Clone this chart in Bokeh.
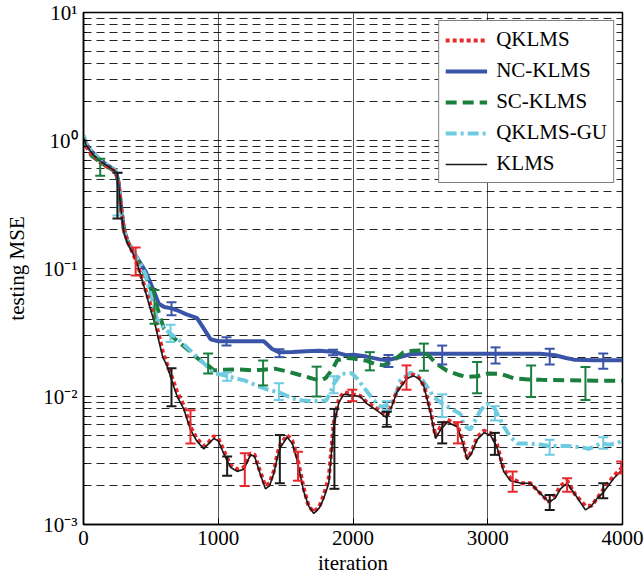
from bokeh.plotting import figure
from bokeh.models import (Range1d, FixedTicker, ColumnDataSource, Whisker, TeeHead,
                          Legend, LegendItem)
from bokeh.embed import file_html
from bokeh.resources import INLINE

# ---------------- data ----------------
it_k = [0, 20, 60, 120, 180, 240, 260, 280, 300, 330, 370, 410, 457, 497, 530, 560, 590, 620, 653, 695,
        744, 794, 840, 893, 930, 967, 1000, 1040, 1091, 1140, 1190, 1239, 1270, 1310, 1350, 1380, 1412,
        1440, 1462, 1511, 1550, 1585, 1635, 1670, 1709, 1750, 1783, 1820, 1857, 1895, 1932, 1994, 2054,
        2103, 2177, 2251, 2290, 2325, 2400, 2449, 2490, 2526, 2575, 2612, 2650, 2700, 2773, 2810, 2847,
        2880, 2921, 2971, 3020, 3069, 3118, 3168, 3250, 3317, 3379, 3453, 3500, 3540, 3589, 3651, 3725,
        3770, 3812, 3861, 3936, 4000]
klms = [1.05, 0.92, 0.80, 0.69, 0.63, 0.57, 0.45, 0.28, 0.19, 0.155, 0.13, 0.10, 0.068, 0.048, 0.037,
        0.027, 0.020, 0.0175, 0.0135, 0.0100, 0.0080, 0.0055, 0.0045, 0.0039, 0.0043, 0.0047, 0.0045,
        0.0036, 0.0028, 0.0026, 0.0027, 0.0035, 0.0034, 0.0025, 0.0019, 0.0020, 0.0025, 0.0034, 0.0040,
        0.0048, 0.0043, 0.0032, 0.0018, 0.0014, 0.00122, 0.00135, 0.0016, 0.0021, 0.0058, 0.0090, 0.0104,
        0.0102, 0.0100, 0.0088, 0.0078, 0.0068, 0.0085, 0.0108, 0.0138, 0.0145, 0.0138, 0.0120, 0.0075,
        0.0047, 0.0055, 0.0063, 0.0058, 0.0045, 0.0032, 0.0036, 0.0046, 0.0052, 0.0050, 0.0040, 0.0026,
        0.0022, 0.0021, 0.0021, 0.0018, 0.0015, 0.0016, 0.0019, 0.0021, 0.0017, 0.0013, 0.0014, 0.0016,
        0.0018, 0.0023, 0.0027]
qklms = [1.02, 0.90, 0.78, 0.68, 0.62, 0.57, 0.46, 0.29, 0.20, 0.16, 0.13, 0.10, 0.070, 0.052, 0.040,
         0.030, 0.022, 0.018, 0.0145, 0.0108, 0.0085, 0.0058, 0.0047, 0.0041, 0.0044, 0.0049, 0.0047,
         0.0038, 0.0029, 0.0027, 0.0028, 0.0036, 0.0035, 0.0026, 0.0020, 0.0021, 0.0026, 0.0036, 0.0042,
         0.0050, 0.0045, 0.0034, 0.0019, 0.0014, 0.00125, 0.00138, 0.0017, 0.0023, 0.0062, 0.0095, 0.0108,
         0.0104, 0.0101, 0.0090, 0.0080, 0.0070, 0.0087, 0.0110, 0.0142, 0.0148, 0.0140, 0.0122, 0.0078,
         0.0049, 0.0058, 0.0066, 0.0060, 0.0047, 0.0033, 0.0037, 0.0048, 0.0054, 0.0052, 0.0042, 0.0027,
         0.0023, 0.0021, 0.0021, 0.0018, 0.0015, 0.0017, 0.0020, 0.0022, 0.0017, 0.0014, 0.0014, 0.0016,
         0.0019, 0.0024, 0.0028]

it_nc = [0, 20, 60, 120, 180, 240, 260, 280, 300, 330, 370, 423, 460, 519, 559, 600, 646, 700, 760, 843,
         900, 943, 1000, 1100, 1200, 1338, 1400, 1450, 1550, 1650, 1750, 1850, 1950, 2006, 2100, 2200,
         2253, 2320, 2427, 2500, 2600, 2800, 3000, 3200, 3391, 3500, 3580, 3640, 3800, 4000]
nc_klms = [1.08, 0.94, 0.82, 0.71, 0.64, 0.58, 0.47, 0.30, 0.20, 0.16, 0.135, 0.11, 0.095, 0.068, 0.053,
           0.050, 0.049, 0.047, 0.044, 0.041, 0.033, 0.028, 0.027, 0.027, 0.027, 0.027, 0.0235, 0.0222,
           0.0223, 0.0226, 0.0228, 0.0224, 0.021, 0.0212, 0.0205, 0.0195, 0.0192, 0.020, 0.0214, 0.0216,
           0.0216, 0.0216, 0.0216, 0.0216, 0.0216, 0.021, 0.020, 0.0194, 0.0192, 0.0192]

it_sc = [0, 20, 60, 120, 180, 240, 260, 280, 300, 330, 370, 423, 460, 510, 560, 596, 650, 700, 760, 819,
         870, 925, 967, 1050, 1150, 1250, 1333, 1420, 1500, 1600, 1700, 1760, 1800, 1850, 1883, 1950,
         2006, 2105, 2160, 2226, 2300, 2375, 2450, 2501, 2560, 2620, 2698, 2780, 2847, 2921, 3000, 3100,
         3200, 3300, 3400, 3600, 3800, 4000]
sc_klms = [1.05, 0.90, 0.76, 0.68, 0.62, 0.57, 0.46, 0.29, 0.20, 0.16, 0.135, 0.105, 0.088, 0.066, 0.045,
           0.034, 0.030, 0.027, 0.024, 0.021, 0.019, 0.0175, 0.016, 0.0162, 0.0163, 0.016, 0.0162, 0.0165,
           0.0158, 0.0148, 0.0138, 0.0133, 0.014, 0.0165, 0.0192, 0.020, 0.0198, 0.019, 0.018, 0.0175,
           0.019, 0.0222, 0.0228, 0.0229, 0.021, 0.018, 0.0159, 0.0148, 0.0142, 0.0144, 0.0151, 0.015,
           0.0138, 0.0136, 0.0135, 0.0134, 0.0133, 0.0133]

it_gu = [0, 20, 60, 120, 180, 240, 260, 280, 300, 330, 370, 423, 460, 494, 546, 600, 646, 720, 790, 850,
         910, 967, 1030, 1091, 1200, 1300, 1380, 1450, 1520, 1585, 1700, 1800, 1830, 1857, 1907, 1990,
         2040, 2079, 2150, 2204, 2260, 2301, 2350, 2427, 2501, 2560, 2600, 2662, 2748, 2798, 2821, 2870,
         2946, 2996, 3053, 3120, 3170, 3219, 3300, 3400, 3460, 3600, 3700, 3750, 3800, 3837, 3900, 3950,
         4000]
qklms_gu = [1.10, 0.95, 0.82, 0.71, 0.64, 0.58, 0.47, 0.30, 0.20, 0.16, 0.135, 0.108, 0.09, 0.065, 0.040,
            0.034, 0.031, 0.027, 0.023, 0.020, 0.0175, 0.0152, 0.0148, 0.0142, 0.0133, 0.012, 0.0112,
            0.0108, 0.0100, 0.0094, 0.0092, 0.0093, 0.0105, 0.0125, 0.0150, 0.0152, 0.0135, 0.0118,
            0.0095, 0.0083, 0.0086, 0.0091, 0.0133, 0.0154, 0.0142, 0.0115, 0.0099, 0.0088, 0.0078,
            0.0073, 0.0060, 0.0055, 0.0078, 0.0088, 0.0080, 0.0058, 0.0048, 0.0043, 0.0043, 0.0042,
            0.0041, 0.0041, 0.0040, 0.0039, 0.0041, 0.0043, 0.0042, 0.0043, 0.0045]

# error bars: iteration, lower, upper
eb_qklms_x = [387, 794, 1197, 1592, 1994, 2397, 2778, 3185, 3589, 3990]
eb_qklms_lo = [0.088, 0.0043, 0.0020, 0.0022, 0.0092, 0.0113, 0.0043, 0.0018, 0.0018, 0.0025]
eb_qklms_hi = [0.146, 0.0078, 0.0036, 0.0037, 0.0113, 0.0175, 0.0063, 0.0026, 0.0023, 0.0031]

eb_klms_x = [252, 653, 1066, 1457, 1862, 2251, 2662, 3053, 3460, 3857]
eb_klms_lo = [0.246, 0.0084, 0.0024, 0.0021, 0.0019, 0.0058, 0.0043, 0.0035, 0.0013, 0.0016]
eb_klms_hi = [0.56, 0.0166, 0.0034, 0.0050, 0.0080, 0.0076, 0.0063, 0.0052, 0.0017, 0.0021]

eb_nc_x = [653, 1061, 1454, 1852, 2263, 2662, 3058, 3460, 3857]
eb_nc_lo = [0.0432, 0.025, 0.0203, 0.0210, 0.0170, 0.0178, 0.0181, 0.0178, 0.0165]
eb_nc_hi = [0.0546, 0.029, 0.0234, 0.0232, 0.0211, 0.0250, 0.0242, 0.0236, 0.0217]

eb_sc_x = [124, 527, 925, 1333, 1730, 2125, 2526, 2921, 3322, 3725]
eb_sc_lo = [0.53, 0.037, 0.0151, 0.0122, 0.0100, 0.016, 0.0159, 0.0106, 0.0099, 0.0094]
eb_sc_hi = [0.72, 0.068, 0.0217, 0.0191, 0.0171, 0.0222, 0.0259, 0.0186, 0.0175, 0.0170]

eb_gu_x = [252, 646, 1066, 1450, 1857, 2251, 2662, 3053, 3460, 3857]
eb_gu_lo = [0.26, 0.0266, 0.0133, 0.0094, 0.0106, 0.0078, 0.0069, 0.0065, 0.0035, 0.0039]
eb_gu_hi = [0.56, 0.0364, 0.0154, 0.0127, 0.0144, 0.0092, 0.0104, 0.0084, 0.0046, 0.0048]

x_ticks = [0, 1000, 2000, 3000, 4000]
y_ticks = [1e-3, 1e-2, 1e-1, 1.0, 10.0]
y_tick_labels = ["10\u207b\u00b3", "10\u207b\u00b2", "10\u207b\u00b9", "10\u2070", "10\u00b9"]

RED, BLUE, GREEN, CYAN, BLACK = "#e8282c", "#3a55a8", "#1a7e3c", "#6fcbe0", "#1a1a1a"
FONT = "Liberation Serif"

p = figure(width=644, height=578, x_range=Range1d(0, 4000), y_range=Range1d(1e-3, 10),
           y_axis_type="log", output_backend="svg", toolbar_location=None,
           min_border_left=83, min_border_right=22, min_border_top=12, min_border_bottom=54)
p.background_fill_color = "white"
p.outline_line_color = "black"
p.outline_line_width = 1.5

p.xaxis.ticker = FixedTicker(ticks=x_ticks)
minors = [k * d for d in [1e-3, 1e-2, 1e-1, 1.0] for k in range(2, 10)]
p.yaxis.ticker = FixedTicker(ticks=y_ticks, minor_ticks=minors)
p.yaxis.major_label_overrides = {t: l for t, l in zip(y_ticks, y_tick_labels)}

for ax in (p.xaxis[0], p.yaxis[0]):
    ax.major_tick_in = 6
    ax.major_tick_out = 0
    ax.minor_tick_in = 3
    ax.minor_tick_out = 0
    ax.axis_line_width = 1.5
    ax.axis_line_color = "black"
    ax.major_tick_line_color = "black"
    ax.minor_tick_line_color = "black"
    ax.major_label_text_font = FONT
    ax.major_label_text_font_size = "21px"
    ax.major_label_text_color = "black"
    ax.axis_label_text_font = FONT
    ax.axis_label_text_font_size = "21px"
    ax.axis_label_text_font_style = "normal"
    ax.axis_label_text_color = "black"
p.xaxis.minor_tick_line_color = None
p.xaxis.major_label_standoff = 6
p.xaxis.axis_label_standoff = 3
p.yaxis.major_label_standoff = 6
p.yaxis.axis_label_standoff = 11
p.xaxis.axis_label = "iteration"
p.yaxis.axis_label = "testing MSE"

p.xgrid.ticker = FixedTicker(ticks=[1000, 2000, 3000])
p.xgrid.grid_line_color = "#555555"
p.xgrid.grid_line_width = 1
p.ygrid.grid_line_color = "black"
p.ygrid.grid_line_dash = "8 5"
p.ygrid.grid_line_width = 1
p.ygrid.grid_line_alpha = 0.85
p.ygrid.minor_grid_line_color = "black"
p.ygrid.minor_grid_line_dash = "8 5"
p.ygrid.minor_grid_line_width = 1
p.ygrid.minor_grid_line_alpha = 0.85

r_nc = p.line(it_nc, nc_klms, line_color=BLUE, line_width=4)
r_sc = p.line(it_sc, sc_klms, line_color=GREEN, line_width=4, line_dash="11 6")
r_gu = p.line(it_gu, qklms_gu, line_color=CYAN, line_width=4, line_dash="11 4 3 4")
r_q = p.line(it_k, qklms, line_color=RED, line_width=4, line_dash="4 3")
r_k = p.line(it_k, klms, line_color=BLACK, line_width=1.6)


def bars(xs, lo, hi, color):
    src = ColumnDataSource(dict(x=xs, lo=lo, hi=hi))
    w = Whisker(source=src, base="x", lower="lo", upper="hi", line_color=color, line_width=2,
                level="glyph",
                upper_head=TeeHead(size=10, line_color=color, line_width=2),
                lower_head=TeeHead(size=10, line_color=color, line_width=2))
    p.add_layout(w)


bars(eb_nc_x, eb_nc_lo, eb_nc_hi, BLUE)
bars(eb_sc_x, eb_sc_lo, eb_sc_hi, GREEN)
bars(eb_gu_x, eb_gu_lo, eb_gu_hi, CYAN)
bars(eb_qklms_x, eb_qklms_lo, eb_qklms_hi, RED)
bars(eb_klms_x, eb_klms_lo, eb_klms_hi, BLACK)

legend = Legend(items=[LegendItem(label="QKLMS", renderers=[r_q]),
                       LegendItem(label="NC-KLMS", renderers=[r_nc]),
                       LegendItem(label="SC-KLMS", renderers=[r_sc]),
                       LegendItem(label="QKLMS-GU", renderers=[r_gu]),
                       LegendItem(label="KLMS", renderers=[r_k])],
                location="top_right", border_line_color="black", border_line_width=1,
                background_fill_color="white", background_fill_alpha=1.0,
                label_text_font=FONT, label_text_font_size="21px", label_text_color="black",
                glyph_width=42, glyph_height=22, label_height=22, spacing=6, padding=6,
                margin=8, label_standoff=9)
p.add_layout(legend)

open("out.html", "w").write(file_html(p, INLINE))
